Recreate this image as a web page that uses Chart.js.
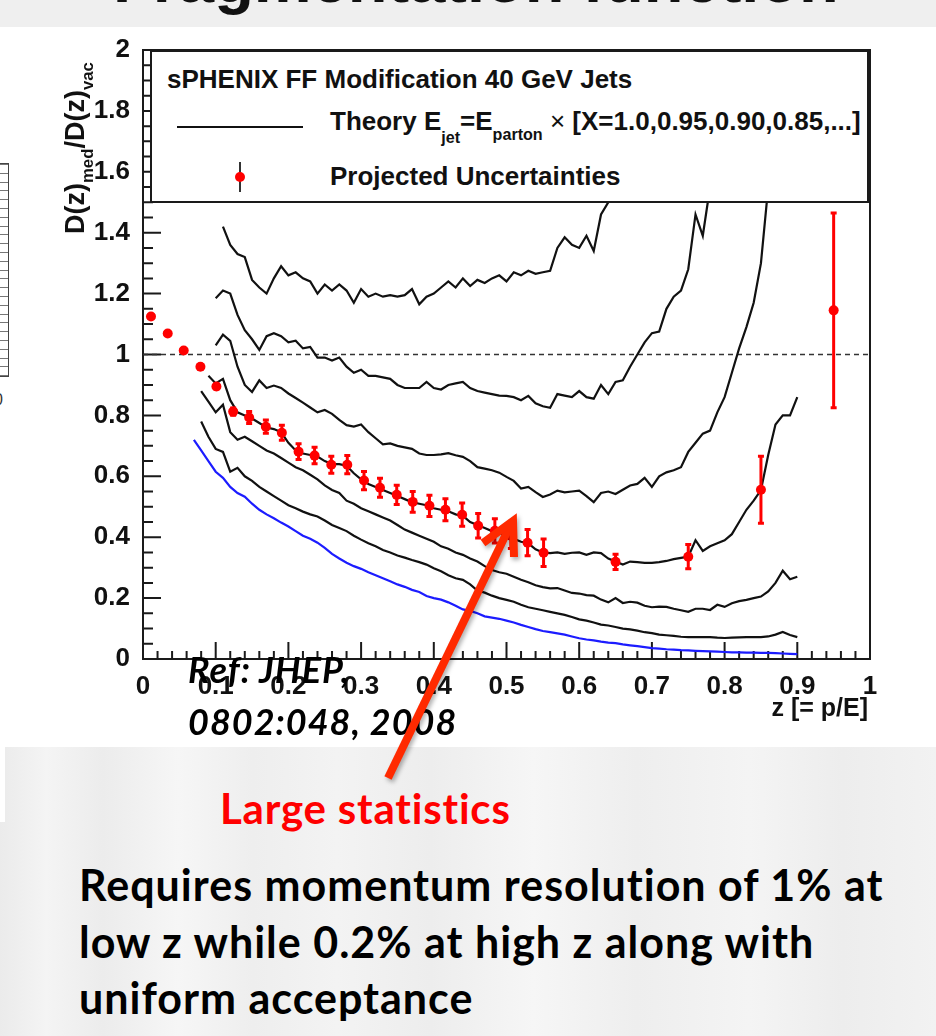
<!DOCTYPE html>
<html>
<head>
<meta charset="utf-8">
<title>sPHENIX FF Modification 40 GeV Jets</title>
<script src="https://cdn.jsdelivr.net/npm/chart.js@4.4.1/dist/chart.umd.min.js"></script>
<style>
  html, body { margin: 0; padding: 0; }
  body { position: relative; width: 936px; height: 1036px; overflow: hidden; background: #efefef;
         font-family: 'Liberation Sans', Arial, Helvetica, sans-serif; }
  .abs { position: absolute; white-space: nowrap; line-height: 1; }
  #slideTitle { left: 113px; top: -53px; font-size: 65px; font-weight: bold; color: #111; z-index: 1; }
  #panel { position: absolute; left: 0; top: 27px; width: 936px; height: 720px; background: #fff; }
  #lower { position: absolute; left: 0; top: 747px; width: 936px; height: 289px;
           background: linear-gradient(90deg, #ebebeb 0%, #f4f4f4 5%, #ececec 11%, #f6f6f6 19%, #eeeeee 27%,
             #f3f3f3 36%, #ededed 46%, #f6f6f6 57%, #eeeeee 68%, #f4f4f4 80%, #ededed 90%, #f2f2f2 100%); }
  #lowerStrip { position: absolute; left: 0; top: 747px; width: 5px; height: 75px; background: #fff; }
  #sideTable { position: absolute; left: 0; top: 163px; width: 8px; height: 212px; border: 1px solid #444; border-left: none;
               background: repeating-linear-gradient(to bottom, #777 0 1px, transparent 1px 8.8px); }
  #sideZero { left: -6px; top: 392px; font-size: 16px; color: #333; }
  #chartBox { position: absolute; left: 0; top: 0; width: 936px; height: 745px; z-index: 2; }
  #legendBox { position: absolute; left: 150px; top: 50px; width: 719px; height: 153px; box-sizing: border-box;
               border: 2px solid #1a1a1a; background: #fff; z-index: 3; }
  .leg { font-size: 26px; font-weight: bold; color: #111; z-index: 4; }
  .leg sub { font-size: 0.62em; line-height: 1; }
  .leg .subJet { vertical-align: -13px; }
  .leg .subParton { vertical-align: -10px; }
  .leg .times { font-weight: normal; }
  #legLine { position: absolute; left: 177px; top: 126px; width: 126px; height: 2px; background: #111; z-index: 4; }
  #legBar { position: absolute; left: 239px; top: 162px; width: 2px; height: 30px; background: #333; z-index: 4; }
  #legDot { position: absolute; left: 235px; top: 172px; width: 10px; height: 10px; border-radius: 50%; background: #ff0000; z-index: 5; }
  #yTitle { left: 62px; top: 234px; font-size: 27px; font-weight: bold; color: #111; z-index: 4;
            transform-origin: left top; transform: rotate(-90deg); }
  #yTitle sub { font-size: 0.62em; vertical-align: -9px; line-height: 1; }
  #xTitle { right: 68px; top: 695px; font-size: 25px; font-weight: bold; color: #111; z-index: 4; }
  .calibri { font-family: Lato, 'Open Sans', sans-serif; font-weight: 700; }
  #refNote { left: 188px; top: 643px; font-size: 36px; line-height: 52px; letter-spacing: 1px; font-style: italic; color: #000; z-index: 5; }
  #bigStats { left: 220px; top: 787px; font-size: 42px; letter-spacing: 0.8px; color: #ff0000; z-index: 5; }
  #requires { left: 79px; top: 857px; font-size: 43px; line-height: 56.5px; letter-spacing: 1px; color: #000; z-index: 5; }
  #arrow { position: absolute; left: 0; top: 0; z-index: 6; filter: drop-shadow(2px 3px 2px rgba(0,0,0,0.3)); }
</style>
</head>
<body>
<div id="slideTitle" class="abs">Fragmentation function</div>
<div id="panel"></div>
<div id="lower"></div>
<div id="lowerStrip"></div>
<div id="sideTable"></div>
<div id="sideZero" class="abs">0</div>

<div id="chartBox"><canvas id="ffChart"></canvas></div>

<div id="legendBox"></div>
<div class="abs leg" style="left:167px; top:66px;">sPHENIX FF Modification 40 GeV Jets</div>
<div id="legLine"></div>
<div class="abs leg" style="left:330px; top:108px;">Theory E<sub class="subJet">jet</sub>=E<sub class="subParton">parton</sub> <span class="times">×</span> [X=1.0,0.95,0.90,0.85,...]</div>
<div id="legBar"></div>
<div id="legDot"></div>
<div class="abs leg" style="left:330px; top:163px;">Projected Uncertainties</div>

<div id="yTitle" class="abs">D(z)<sub>med</sub>/D(z)<sub>vac</sub></div>
<div id="xTitle" class="abs">z [= p/E]</div>

<div id="refNote" class="abs calibri">Ref: JHEP,<br>0802:048, 2008</div>
<div id="bigStats" class="abs calibri">Large statistics</div>
<div id="requires" class="abs calibri">Requires momentum resolution of 1% at<br>low z while 0.2% at high z along with<br>uniform acceptance</div>

<svg id="arrow" width="936" height="1036">
  <g stroke="#ff2a00" stroke-width="8" fill="none">
    <line x1="388" y1="778" x2="509" y2="528" />
    <polyline points="483,543 513,521 514,557" stroke-linejoin="miter" />
  </g>
</svg>

<script>
// z grid of the theory curves (0.07 ... 0.90)
const zTheory = [0.07, 0.08, 0.09, 0.10, 0.11, 0.12, 0.13, 0.14, 0.15, 0.16, 0.17, 0.18, 0.19,
  0.20, 0.21, 0.22, 0.23, 0.24, 0.25, 0.26, 0.27, 0.28, 0.29, 0.30, 0.31, 0.32, 0.33, 0.34, 0.35,
  0.36, 0.37, 0.38, 0.39, 0.40, 0.41, 0.42, 0.43, 0.44, 0.45, 0.46, 0.47, 0.48, 0.49, 0.50, 0.51,
  0.52, 0.53, 0.54, 0.55, 0.56, 0.57, 0.58, 0.59, 0.60, 0.61, 0.62, 0.63, 0.64, 0.65, 0.66, 0.67,
  0.68, 0.69, 0.70, 0.71, 0.72, 0.73, 0.74, 0.75, 0.76, 0.77, 0.78, 0.79, 0.80, 0.81, 0.82, 0.83,
  0.84, 0.85, 0.86, 0.87, 0.88, 0.89, 0.90];

// Theory E_jet = X * E_parton, one array per X (top curve first)
const theoryX070 = [null, null, null, null,
  1.42, 1.36, 1.33, 1.32, 1.245, 1.22, 1.20, 1.25, 1.29,
  1.26, 1.27, 1.25, 1.24, 1.20, 1.23, 1.21, 1.23, 1.21, 1.17,
  1.215, 1.19, 1.20, 1.19, 1.195, 1.19, 1.195, 1.215, 1.165, 1.19,
  1.20, 1.22, 1.24, 1.22, 1.25, 1.225, 1.245, 1.235, 1.25, 1.26,
  1.24, 1.27, 1.26, 1.275, 1.265, 1.27, 1.275, 1.35, 1.385, 1.36,
  1.35, 1.39, 1.34, 1.46, 1.50, 1.60, 1.75, 1.95, 2.2,
  null, null, null, null, null, null, null, null, null, null, null,
  null, null, null, null, null, null, null, null, null, null, null];
const theoryX075 = [null, null, null,
  1.185, 1.21, 1.20, 1.13, 1.08, 1.05, 1.015, 1.06, 1.07, 1.06,
  1.04, 1.045, 1.02, 1.025, 0.99, 0.99, 0.98, 0.99, 0.96, 0.94,
  0.95, 0.93, 0.93, 0.925, 0.92, 0.90, 0.89, 0.89, 0.89, 0.91,
  0.89, 0.885, 0.90, 0.905, 0.91, 0.89, 0.88, 0.875, 0.87, 0.865,
  0.864, 0.86, 0.85, 0.864, 0.84, 0.83, 0.825, 0.87, 0.865, 0.86,
  0.88, 0.86, 0.855, 0.90, 0.87, 0.91, 0.915, 0.96, 1.00, 1.04,
  1.07, 1.075, 1.15, 1.19, 1.21, 1.28, 1.46, 1.39, 1.55, 1.75,
  2.0, 2.2,
  null, null, null, null, null, null, null, null, null];
const theoryX080 = [null, null, null,
  1.03, 1.065, 1.045, 0.96, 0.90, 0.877, 0.915, 0.89, 0.898, 0.89,
  0.872, 0.857, 0.842, 0.826, 0.81, 0.818, 0.805, 0.785, 0.768, 0.763,
  0.77, 0.745, 0.725, 0.705, 0.708, 0.70, 0.695, 0.69, 0.675, 0.67,
  0.67, 0.672, 0.676, 0.669, 0.664, 0.65, 0.63, 0.625, 0.62, 0.612,
  0.598, 0.585, 0.56, 0.565, 0.548, 0.532, 0.54, 0.553, 0.547, 0.55,
  0.553, 0.535, 0.515, 0.545, 0.55, 0.542, 0.556, 0.57, 0.575, 0.595,
  0.565, 0.60, 0.613, 0.62, 0.63, 0.68, 0.71, 0.74, 0.75, 0.81,
  0.86, 0.94, 1.02, 1.09, 1.17, 1.30, 1.55, 1.85, 2.2,
  null, null];
const theoryX085 = [null, null,
  0.93, 0.905, 0.92, 0.85, 0.81, 0.80, 0.79, 0.775, 0.76, 0.755, 0.745,
  0.71, 0.685, 0.675, 0.67, 0.665, 0.65, 0.64, 0.64, 0.635, 0.61,
  0.59, 0.575, 0.565, 0.555, 0.545, 0.535, 0.525, 0.515, 0.51, 0.505,
  0.495, 0.49, 0.485, 0.475, 0.47, 0.45, 0.44, 0.43, 0.42, 0.415,
  0.405, 0.395, 0.385, 0.38, 0.36, 0.35, 0.348, 0.35, 0.345, 0.349,
  0.35, 0.342, 0.35, 0.348, 0.33, 0.32, 0.31, 0.32, 0.318, 0.316,
  0.316, 0.318, 0.322, 0.328, 0.332, 0.336, 0.39, 0.355, 0.37, 0.38,
  0.39, 0.41, 0.45, 0.49, 0.52, 0.555, 0.67, 0.77, 0.80, 0.80, 0.86];
const theoryX090 = [null,
  0.88, 0.845, 0.81, 0.835, 0.745, 0.72, 0.73, 0.715, 0.70, 0.685, 0.675, 0.66,
  0.645, 0.63, 0.62, 0.605, 0.59, 0.57, 0.555, 0.545, 0.52, 0.51,
  0.495, 0.485, 0.475, 0.465, 0.455, 0.44, 0.425, 0.415, 0.405, 0.395,
  0.385, 0.37, 0.362, 0.35, 0.342, 0.33, 0.32, 0.305, 0.292, 0.285,
  0.28, 0.27, 0.26, 0.252, 0.242, 0.236, 0.232, 0.233, 0.225, 0.217,
  0.215, 0.21, 0.208, 0.195, 0.186, 0.20, 0.184, 0.188, 0.185, 0.175,
  0.17, 0.172, 0.171, 0.165, 0.16, 0.155, 0.165, 0.165, 0.161, 0.178,
  0.171, 0.183, 0.19, 0.194, 0.20, 0.205, 0.222, 0.25, 0.29, 0.262, 0.27];
const theoryX095 = [null,
  0.78, 0.73, 0.69, 0.68, 0.615, 0.628, 0.60, 0.585, 0.565, 0.55, 0.535, 0.52,
  0.505, 0.495, 0.484, 0.475, 0.468, 0.455, 0.44, 0.43, 0.42, 0.405,
  0.392, 0.38, 0.37, 0.358, 0.35, 0.34, 0.333, 0.325, 0.318, 0.31,
  0.298, 0.288, 0.275, 0.265, 0.26, 0.245, 0.225, 0.218, 0.208, 0.20,
  0.194, 0.188, 0.178, 0.17, 0.165, 0.16, 0.155, 0.15, 0.145, 0.138,
  0.13, 0.126, 0.12, 0.113, 0.11, 0.105, 0.10, 0.097, 0.093, 0.088,
  0.085, 0.08, 0.078, 0.076, 0.073, 0.072, 0.072, 0.072, 0.072, 0.07,
  0.069, 0.07, 0.071, 0.072, 0.072, 0.072, 0.074, 0.08, 0.089, 0.079, 0.072];
const theoryX100 = [0.72,
  0.685, 0.65, 0.615, 0.595, 0.565, 0.545, 0.533, 0.51, 0.49, 0.475, 0.462, 0.448,
  0.435, 0.42, 0.405, 0.395, 0.382, 0.365, 0.345, 0.33, 0.316, 0.305,
  0.296, 0.285, 0.275, 0.265, 0.255, 0.245, 0.237, 0.227, 0.22, 0.207,
  0.20, 0.195, 0.186, 0.175, 0.163, 0.158, 0.15, 0.14, 0.136, 0.132,
  0.126, 0.12, 0.112, 0.105, 0.098, 0.092, 0.088, 0.084, 0.08, 0.074,
  0.068, 0.064, 0.061, 0.057, 0.054, 0.052, 0.048, 0.045, 0.042, 0.039,
  0.036, 0.034, 0.032, 0.031, 0.029, 0.028, 0.027, 0.026, 0.025, 0.024,
  0.023, 0.022, 0.022, 0.021, 0.021, 0.02, 0.02, 0.019, 0.018, 0.017, 0.016];

// Projected uncertainties (red points)
const zProj = [0.011, 0.034, 0.056, 0.079, 0.101, 0.124, 0.146, 0.169, 0.191, 0.214,
  0.236, 0.259, 0.281, 0.304, 0.326, 0.349, 0.371, 0.394, 0.416, 0.439,
  0.461, 0.484, 0.506, 0.529, 0.551, 0.65, 0.75, 0.85, 0.95];
const yProj = [1.125, 1.069, 1.013, 0.96, 0.895, 0.8125, 0.793, 0.763, 0.743, 0.681,
  0.668, 0.638, 0.638, 0.586, 0.5625, 0.539, 0.516, 0.503, 0.49, 0.474,
  0.4375, 0.421, 0.405, 0.382, 0.349, 0.319, 0.336, 0.556, 1.145];
const errProj = [0.004, 0.005, 0.006, 0.007, 0.008, 0.012, 0.02, 0.022, 0.025, 0.026,
  0.027, 0.028, 0.03, 0.03, 0.031, 0.032, 0.034, 0.035, 0.036, 0.038,
  0.04, 0.04, 0.042, 0.043, 0.045, 0.025, 0.04, 0.11, 0.32];

// axis ticks
const xTicks = [0, 0.1, 0.2, 0.3, 0.4, 0.5, 0.6, 0.7, 0.8, 0.9, 1];
const xTickLabels = ['0', '0.1', '0.2', '0.3', '0.4', '0.5', '0.6', '0.7', '0.8', '0.9', '1'];
const yTicks = [0, 0.2, 0.4, 0.6, 0.8, 1, 1.2, 1.4, 1.6, 1.8, 2];
const yTickLabels = ['0', '0.2', '0.4', '0.6', '0.8', '1', '1.2', '1.4', '1.6', '1.8', '2'];

const tickFont = { family: "'Liberation Sans', Arial, Helvetica, sans-serif", size: 26, weight: 'bold' };

function toPoints(zs, ys) { return zs.map((z, i) => ({ x: z, y: ys[i] })); }

function theoryDataset(values, color) {
    return { data: toPoints(zTheory, values), borderColor: color, borderWidth: 2.2, pointRadius: 0,
             tension: 0, spanGaps: false, fill: false };
}

// inward ROOT-style ticks + frame
const frameTicks = {
    id: 'frameTicks',
    beforeDatasetsDraw(chart) {
        const { ctx, chartArea: a, scales: { x, y } } = chart;
        ctx.save();
        ctx.strokeStyle = '#1a1a1a';
        ctx.lineWidth = 2;
        ctx.beginPath();
        for (let k = 0; k <= 40; k++) {
            const py = y.getPixelForValue(k * 0.05);
            ctx.moveTo(a.left, py);
            ctx.lineTo(a.left + (k % 4 === 0 ? 18 : 10), py);
        }
        for (let k = 0; k <= 50; k++) {
            const px = x.getPixelForValue(k * 0.02);
            ctx.moveTo(px, a.bottom);
            ctx.lineTo(px, a.bottom - (k % 5 === 0 ? 17 : 8));
        }
        ctx.stroke();
        ctx.strokeRect(a.left, a.top, a.right - a.left, a.bottom - a.top);
        ctx.restore();
    }
};

// vertical error bars under the red points
const errorBars = {
    id: 'errorBars',
    beforeDatasetDraw(chart, args) {
        if (args.index !== 0) return;
        const { ctx, scales: { x, y } } = chart;
        ctx.save();
        ctx.strokeStyle = '#ff0000';
        ctx.lineWidth = 3;
        ctx.beginPath();
        zProj.forEach((z, i) => {
            const px = x.getPixelForValue(z);
            const top = y.getPixelForValue(yProj[i] + errProj[i]);
            const bot = y.getPixelForValue(yProj[i] - errProj[i]);
            ctx.moveTo(px, top); ctx.lineTo(px, bot);
            ctx.moveTo(px - 3, top); ctx.lineTo(px + 3, top);
            ctx.moveTo(px - 3, bot); ctx.lineTo(px + 3, bot);
        });
        ctx.stroke();
        ctx.restore();
    }
};

new Chart(document.getElementById('ffChart'), {
    type: 'line',
    data: {
        datasets: [
            { data: toPoints(zProj, yProj), showLine: false, pointRadius: 5, pointBackgroundColor: '#ff0000',
              pointBorderWidth: 0 },
            theoryDataset(theoryX070, '#111'),
            theoryDataset(theoryX075, '#111'),
            theoryDataset(theoryX080, '#111'),
            theoryDataset(theoryX085, '#111'),
            theoryDataset(theoryX090, '#111'),
            theoryDataset(theoryX095, '#111'),
            theoryDataset(theoryX100, '#1c1cff'),
            { data: [{ x: 0, y: 1 }, { x: 1, y: 1 }], borderColor: '#333', borderWidth: 1.6, borderDash: [5, 4],
              pointRadius: 0 }
        ]
    },
    options: {
        responsive: true,
        maintainAspectRatio: false,
        animation: false,
        events: [],
        layout: { padding: { left: 0, top: 50, right: 66, bottom: 0 } },
        plugins: { legend: { display: false }, tooltip: { enabled: false } },
        scales: {
            x: {
                type: 'linear', min: 0, max: 1,
                grid: { display: false }, border: { display: false },
                afterBuildTicks: s => { s.ticks = xTicks.map(v => ({ value: v })); },
                afterFit: s => { s.height = 86; },
                ticks: { callback: (v, i) => xTickLabels[i], autoSkip: false, maxRotation: 0, padding: 4,
                         font: tickFont, color: '#111' }
            },
            y: {
                type: 'linear', min: 0, max: 2,
                grid: { display: false }, border: { display: false },
                afterBuildTicks: s => { s.ticks = yTicks.map(v => ({ value: v })); },
                afterFit: s => { s.width = 143; },
                ticks: { callback: (v, i) => yTickLabels[i], autoSkip: false, padding: 5,
                         font: tickFont, color: '#111' }
            }
        }
    },
    plugins: [frameTicks, errorBars]
});
</script>
</body>
</html>
